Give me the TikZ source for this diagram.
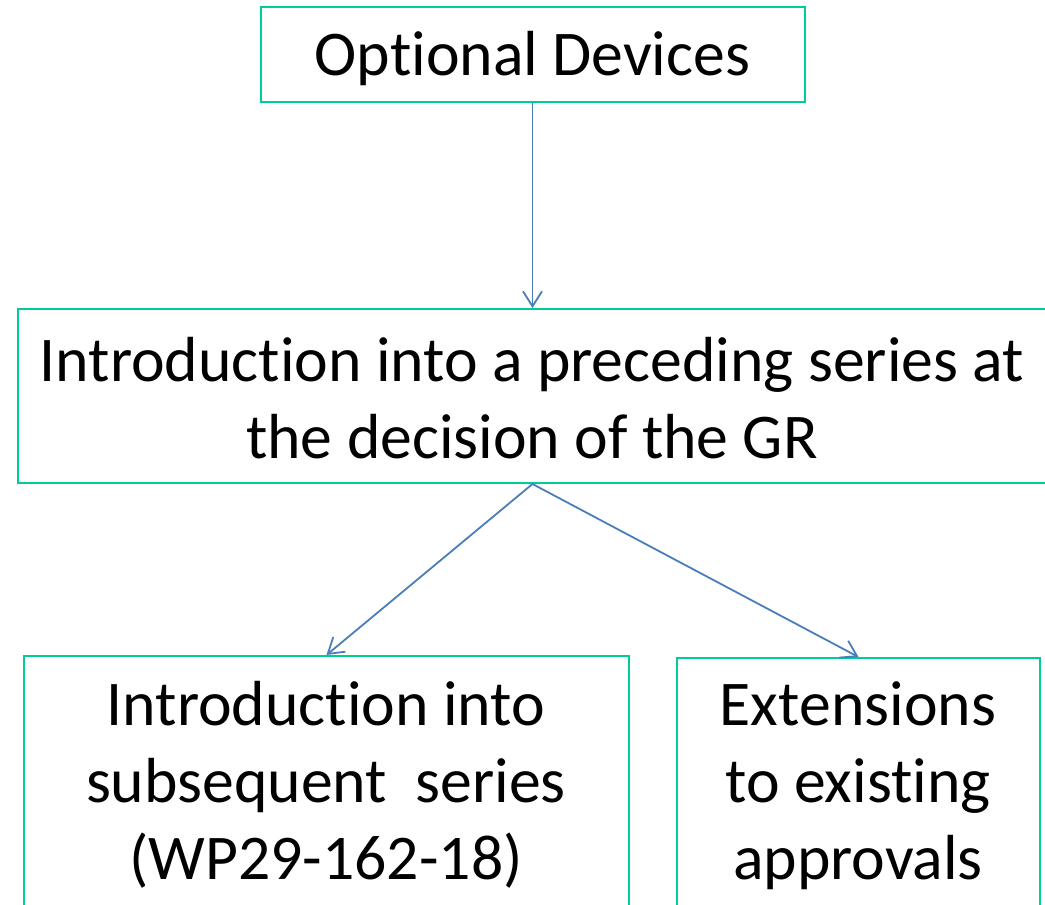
\documentclass[tikz,border=0pt]{standalone}
\usepackage{fontspec}
\setmainfont{Carlito}[Ligatures=NoCommon]
\usetikzlibrary{arrows.meta}
\newcommand\tiNoLig{t\kern0pt i}
\definecolor{boxgreen}{RGB}{0,204,153}
\definecolor{arrowblue}{RGB}{74,126,187}
\tikzset{
  box/.style={draw=boxgreen, line width=2pt, inner sep=0pt},
  label/.style={align=center, inner sep=0pt, font=\fontsize{63.7}{77}\selectfont},
  conn/.style={draw=arrowblue, line width=1.8pt, -{Straight Barb[length=15pt,width=19pt,line width=1.8pt]}}
}
\begin{document}
\begin{tikzpicture}[x=1pt,y=-1pt]
\useasboundingbox (0,0) rectangle (1045,905);
\clip (0,0) rectangle (1045,905);
\node[box, minimum width=544pt, minimum height=95pt] (top) at (532.5,54.5) {};
\node[label] (toptext) at (532.5,59) {Op\tiNoLig onal Devices};
\node[box, minimum width=1042pt, minimum height=174pt] (mid) at (539,396) {};
\node[label] (midtext) at (532,398) {Introduc\tiNoLig on into a preceding series at\\the decision of the GR};
\node[box, minimum width=605pt, minimum height=274pt] (bl) at (326.5,793) {};
\node[label] (bltext) at (326,785) {Introduc\tiNoLig on into\\subsequent\ \ series\\(WP29-162-18)};
\node[box, minimum width=363pt, minimum height=272pt] (br) at (858.5,794) {};
\node[label] (brtext) at (858,786) {Extensions\\to exis\tiNoLig ng\\approvals};
\draw[conn] (top.south) -- (top.south |- mid.north);
\draw[conn] (top.south |- mid.south) -- (bl.north);
\draw[conn] (top.south |- mid.south) -- (br.north);
\end{tikzpicture}
\end{document}
